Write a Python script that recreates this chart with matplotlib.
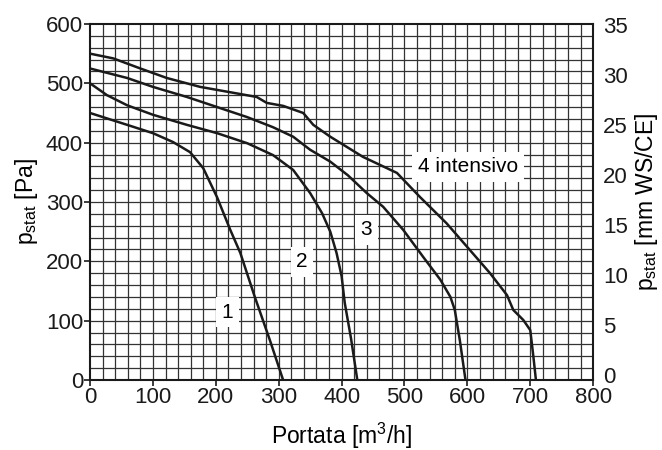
import numpy as np
import matplotlib.pyplot as plt

plt.rcParams['font.family'] = ['Liberation Sans', 'DejaVu Sans']
plt.rcParams['mathtext.fontset'] = 'custom'
plt.rcParams['mathtext.rm'] = 'Liberation Sans'

# curve data: flow [m3/h] vs static pressure [Pa]
q1 = [0, 59, 100, 132, 159, 180, 202, 223, 239, 262, 286, 307]
p1 = [450, 430, 416, 401, 384, 357, 308, 253, 214, 140, 67, 0]

q2 = [0, 27, 59, 100, 154, 202, 250, 291, 323, 350, 369, 382, 392, 400, 405, 415, 425]
p2 = [500, 480, 463, 447, 430, 416, 399, 379, 354, 315, 281, 250, 214, 175, 130, 70, 0]

q3 = [0, 59, 100, 154, 202, 250, 291, 323, 350, 382, 410, 440, 466, 498, 530, 557, 573, 580, 588, 597]
p3 = [525, 509, 494, 477, 460, 443, 426, 410, 388, 368, 345, 315, 292, 253, 207, 169, 140, 118, 67, 0]

q4 = [0, 37, 80, 122, 175, 228, 265, 281, 307, 339, 355, 382, 434, 488, 525, 567,
      604, 636, 663, 673, 689, 700, 705, 709]
p4 = [550, 542, 525, 509, 494, 484, 477, 467, 462, 450, 430, 410, 376, 349, 308, 264,
      219, 180, 143, 118, 101, 84, 39, 0]

labels = ['1', '2', '3', '4 intensivo']
label_q = [218, 337, 439, 601]
label_p = [114, 199, 253, 359]

fig = plt.figure(figsize=(6.62, 4.5), dpi=100)
ax = fig.add_axes([0.136, 0.1556, 0.76, 0.7911])

ax.set_xlim(0, 800)
ax.set_ylim(0, 600)

# fine grid
for xv in np.arange(20, 800, 20):
    ax.axvline(xv, color='#333333', lw=0.9, zorder=1)
for yv in np.arange(20, 600, 20):
    ax.axhline(yv, color='#333333', lw=0.9, zorder=1)

for q, p in [(q1, p1), (q2, p2), (q3, p3), (q4, p4)]:
    ax.plot(q, p, color='#1a1a1a', lw=1.8, zorder=3)

for t, xq, yp in zip(labels, label_q, label_p):
    ax.text(xq, yp, t, fontsize=15, ha='center', va='center', zorder=4,
            bbox=dict(facecolor='white', edgecolor='none', pad=4))

ax.set_xticks(np.arange(0, 801, 100))
ax.set_yticks(np.arange(0, 601, 100))
ax.tick_params(labelsize=16, length=4, width=1.2, colors='#1a1a1a', pad=1)
for s in ax.spines.values():
    s.set_linewidth(1.5)
    s.set_color('#1a1a1a')

ax.set_xlabel(r'Portata [m$^{\mathregular{3}}$/h]', fontsize=16.5, labelpad=9)
ax.set_ylabel(r'p$_{\mathregular{stat}}$ [Pa]', fontsize=16.5, labelpad=4)

# right scale sits slightly offset from the Pa scale, as in the original
ax2 = ax.twinx()
ax2.set_ylim(-0.5, 35.1)
ax2.set_yticks(np.arange(0, 36, 5))
ax2.tick_params(labelsize=16, length=0, pad=7, colors='#1a1a1a')
for s in ax2.spines.values():
    s.set_visible(False)
ax2.set_ylabel(r'p$_{\mathregular{stat}}$ [mm WS/CE]', fontsize=16.5, labelpad=4)

fig.savefig('out.png', dpi=100)
